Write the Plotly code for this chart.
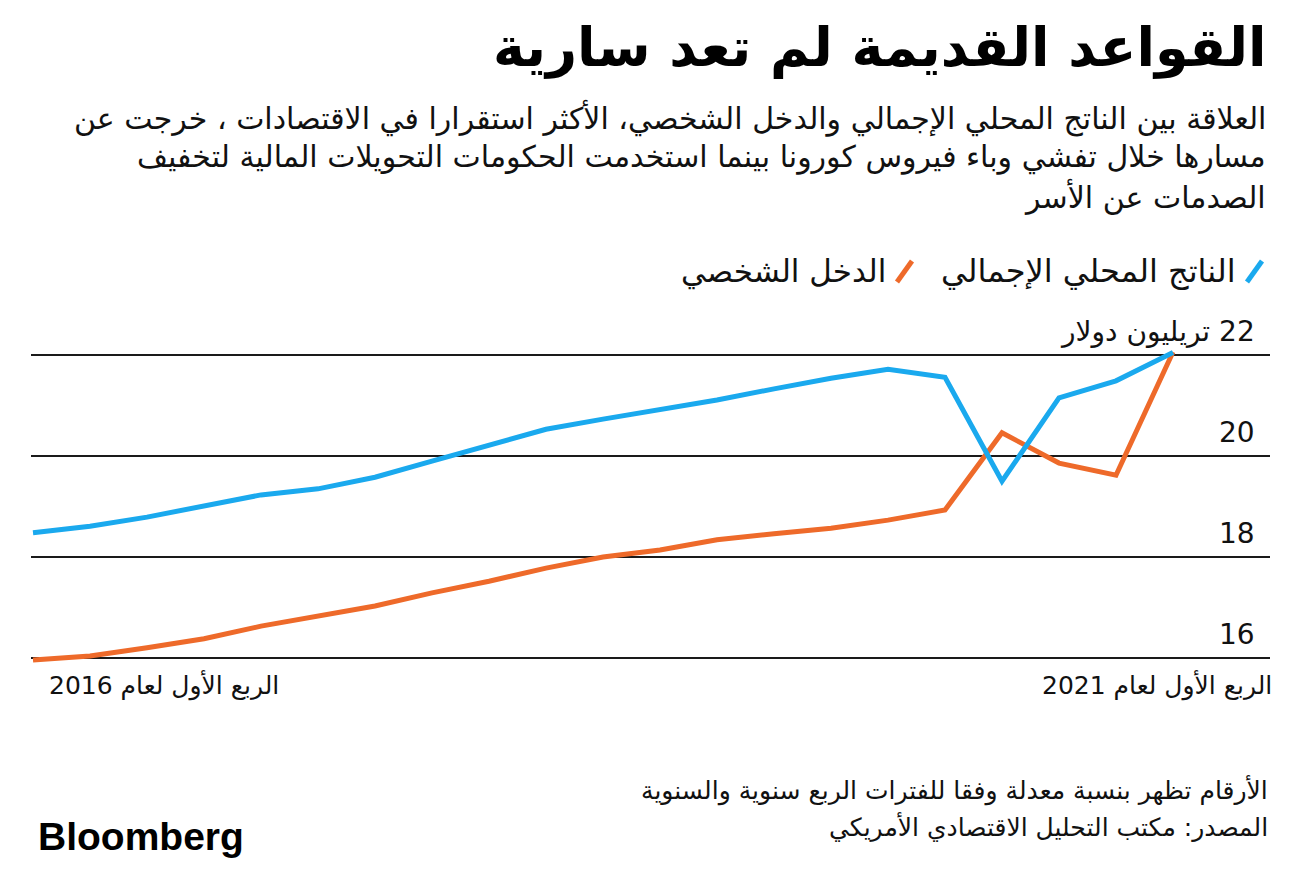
import plotly.graph_objects as go

quarters = ["2016Q1","2016Q2","2016Q3","2016Q4","2017Q1","2017Q2","2017Q3","2017Q4",
            "2018Q1","2018Q2","2018Q3","2018Q4","2019Q1","2019Q2","2019Q3","2019Q4",
            "2020Q1","2020Q2","2020Q3","2020Q4","2021Q1"]
gdp = [18.48, 18.61, 18.79, 19.00, 19.23, 19.35, 19.58, 19.90, 20.22, 20.53, 20.73,
       20.91, 21.11, 21.33, 21.54, 21.72, 21.56, 19.50, 21.15, 21.49, 22.05]
income = [15.96, 16.04, 16.20, 16.38, 16.63, 16.83, 17.03, 17.29, 17.52, 17.78, 18.00,
          18.14, 18.34, 18.46, 18.57, 18.73, 18.93, 20.46, 19.86, 19.62, 22.06]
series_names = ["الناتج المحلي الإجمالي", "الدخل الشخصي"]
ytick_vals = [16, 18, 20, 22]
ytick_text = ["16", "18", "20", "22 تريليون دولار"]
xlabel_left = "الربع الأول لعام 2016"
xlabel_right = "الربع الأول لعام 2021"
title = "القواعد القديمة لم تعد سارية"
subtitle_lines = [
    "العلاقة بين الناتج المحلي الإجمالي والدخل الشخصي، الأكثر استقرارا في الاقتصادات ، خرجت عن",
    "مسارها خلال تفشي وباء فيروس كورونا بينما استخدمت الحكومات التحويلات المالية لتخفيف",
    "الصدمات عن الأسر",
]
footnotes = [
    "الأرقام تظهر بنسبة معدلة وفقا للفترات الربع سنوية والسنوية",
    "المصدر: مكتب التحليل الاقتصادي الأمريكي",
]

BLUE = "#1AA9EE"
ORANGE = "#EE6A2A"
AR = "DejaVu Sans"
RLM = "\u200F"

OFF = 8  # page body margin
W, H = 1297, 872
# plot area in page pixels: x 31..1270, y 350..663
PX0, PX1, PY0, PY1 = 31, 1270, 350, 663
L = PX0 - OFF
T = PY0 - OFF
R = W - (PX1 - OFF)
B = H - (PY1 - OFF)
PW, PH = PX1 - PX0, PY1 - PY0

def px(x):
    return (x - PX0) / PW

def py(y):
    return (PY1 - y) / PH

xs = list(range(len(quarters)))

fig = go.Figure()
fig.add_trace(go.Scatter(x=xs, y=income, mode="lines", name=series_names[1],
                         line=dict(color=ORANGE, width=5), customdata=quarters,
                         hovertemplate="%{customdata}: %{y}<extra></extra>", cliponaxis=False))
fig.add_trace(go.Scatter(x=xs, y=gdp, mode="lines", name=series_names[0],
                         line=dict(color=BLUE, width=5), customdata=quarters,
                         hovertemplate="%{customdata}: %{y}<extra></extra>", cliponaxis=False))

per_q = (1173 - 33) / (len(xs) - 1)
fig.update_xaxes(range=[(PX0 - 33) / per_q, (PX1 - 33) / per_q], showgrid=False,
                 zeroline=False, showticklabels=False, showline=False)
fig.update_yaxes(range=[15.9, 22.1], tickvals=ytick_vals, showticklabels=False,
                 gridcolor="#1a1a1a", gridwidth=2, zeroline=False, showline=False)

ann = []
ann.append(dict(x=px(1268), y=py(47), xref="paper", yref="paper", xanchor="right", yanchor="middle",
                text="<b>" + title + "</b>", showarrow=False,
                font=dict(family=AR, size=54, color="#000")))
for i, line in enumerate(subtitle_lines):
    ann.append(dict(x=px(1268), y=py(118 + 39 * i), xref="paper", yref="paper", xanchor="right",
                    yanchor="middle", text=line, showarrow=False,
                    font=dict(family=AR, size=30, color="#111")))
# legend
ann.append(dict(x=px(1238), y=py(271), xref="paper", yref="paper", xanchor="right", yanchor="middle",
                text=series_names[0], showarrow=False, font=dict(family=AR, size=32, color="#111")))
ann.append(dict(x=px(888), y=py(271), xref="paper", yref="paper", xanchor="right", yanchor="middle",
                text=series_names[1], showarrow=False, font=dict(family=AR, size=31, color="#111")))
# y tick labels
for v, t in zip(ytick_vals, ytick_text):
    ann.append(dict(x=px(1257), y=v, xref="paper", yref="y", xanchor="right", yanchor="bottom",
                    yshift=5, text=RLM + t, showarrow=False,
                    font=dict(family=AR, size=28, color="#111")))
# x labels
ann.append(dict(x=px(47), y=py(685), xref="paper", yref="paper", xanchor="left", yanchor="middle",
                text=RLM + xlabel_left, showarrow=False, font=dict(family=AR, size=25, color="#111")))
ann.append(dict(x=px(1274), y=py(685), xref="paper", yref="paper", xanchor="right", yanchor="middle",
                text=RLM + xlabel_right, showarrow=False, font=dict(family=AR, size=25, color="#111")))
# footnotes
for i, t in enumerate(footnotes):
    ann.append(dict(x=px(1270), y=py(790 + 36 * i), xref="paper", yref="paper", xanchor="right",
                    yanchor="middle", text=t, showarrow=False,
                    font=dict(family=AR, size=25, color="#111")))
ann.append(dict(x=px(36), y=py(836), xref="paper", yref="paper", xanchor="left", yanchor="middle",
                text="<b>Bloomberg</b>", showarrow=False,
                font=dict(family="Liberation Sans", size=39, color="#000")))

shapes = [
    dict(type="line", xref="paper", yref="paper", x0=px(1247), y0=py(282), x1=px(1262), y1=py(261),
         line=dict(color=BLUE, width=5)),
    dict(type="line", xref="paper", yref="paper", x0=px(897), y0=py(282), x1=px(912), y1=py(261),
         line=dict(color=ORANGE, width=5)),
]

fig.update_layout(width=W, height=H, margin=dict(l=L, r=R, t=T, b=B),
                  paper_bgcolor="white", plot_bgcolor="white", showlegend=False,
                  annotations=ann, shapes=shapes)

fig.write_html("out.html")
